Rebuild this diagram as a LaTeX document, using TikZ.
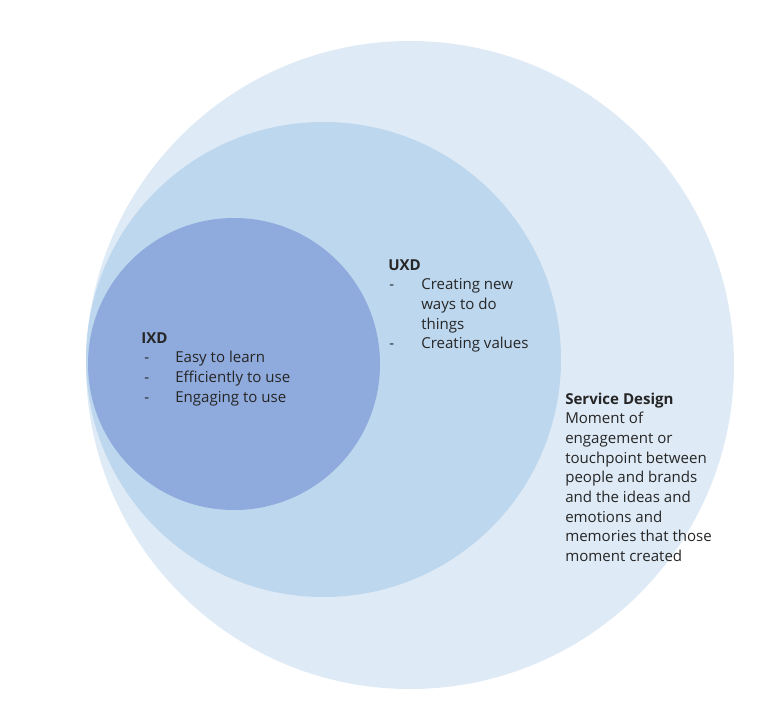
\documentclass[tikz,border=0pt]{standalone}
\usepackage{fontspec}
\setmainfont{Open Sans}
\definecolor{outerc}{HTML}{DEEAF6}
\definecolor{midc}{HTML}{BDD7EE}
\definecolor{innerc}{HTML}{8FAADC}
\definecolor{txtc}{HTML}{262626}
\begin{document}
\begin{tikzpicture}[x=0.75pt,y=-0.75pt,
  txt/.style={anchor=base west,inner sep=0pt,font=\fontsize{11.3}{13}\selectfont,text=txtc},
  hd/.style={txt,font=\fontsize{11.3}{13}\selectfont\bfseries}]
\useasboundingbox (0,0) rectangle (775,714);
\fill[outerc] (410,365) circle (324);
\fill[midc] (323.5,359.5) circle (237.5);
\fill[innerc] (234,364) circle (146);
% UXD
\node[hd] (uxd) at (388,270) {UXD};
\node[txt] (ud1) at (389,289.7) {-};
\node[txt] (u1) at (421,289.7) {Creating new};
\node[txt] (u2) at (421,309.4) {ways to do};
\node[txt] (u3) at (421,329) {things};
\node[txt] (ud2) at (389,348.8) {-};
\node[txt] (u4) at (421,348.8) {Creating values};
% IXD
\node[hd] (ixd) at (141,343) {IXD};
\node[txt] (id1) at (144,362.7) {-};
\node[txt] (i1) at (175,362.7) {Easy to learn};
\node[txt] (id2) at (144,382.4) {-};
\node[txt] (i2) at (175,382.4) {Efficiently to use};
\node[txt] (id3) at (144,402) {-};
\node[txt] (i3) at (175,402) {Engaging to use};
% Service design
\node[hd] (sd) at (565,404) {Service Design};
\node[txt] (s1) at (565,423.7) {Moment of};
\node[txt] (s2) at (565,443.4) {engagement or};
\node[txt] (s3) at (565,463.1) {touchpoint between};
\node[txt] (s4) at (565,482.8) {people and brands};
\node[txt] (s5) at (565,502.5) {and the ideas and};
\node[txt] (s6) at (565,522.2) {emotions and};
\node[txt] (s7) at (565,541.9) {memories that those};
\node[txt] (s8) at (565,561.6) {moment created};
\end{tikzpicture}
\end{document}
